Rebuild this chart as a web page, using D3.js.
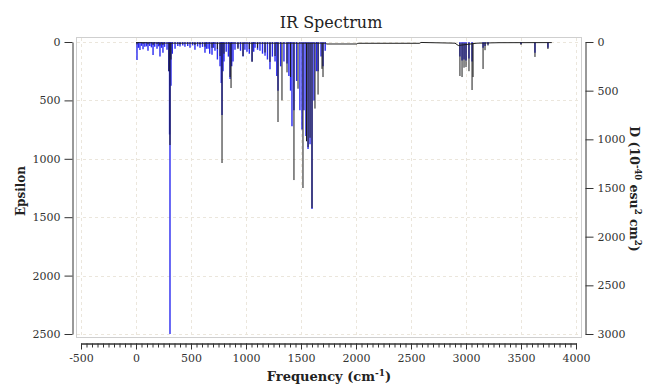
<!DOCTYPE html>
<html><head><meta charset="utf-8">
<script src="https://cdn.jsdelivr.net/npm/d3@7/dist/d3.min.js"></script>
<style>
html,body{margin:0;padding:0;background:#fff;}
svg{display:block;}
</style></head>
<body>
<svg id="chart" width="649" height="386"></svg>
<script>
// ---- data ----
const xTicks = [-500, 0, 500, 1000, 1500, 2000, 2500, 3000, 3500, 4000];
const epsTicks = [0, 500, 1000, 1500, 2000, 2500];
const dTicks = [0, 500, 1000, 1500, 2000, 2500, 3000];

// blue sticks: dipole strength D (right axis)
const stickFreq = [9,22,36,50,64,80,95,109,125,140,155,170,191,205,218,232,245,260,282,298,305,309,318,330,355,380,400,425,445,470,491,515,536,560,582,605,627,640,655,670,691,705,718,740,764,775,782,791,800,820,840,855,870,882,900,927,950,973,990,1009,1030,1055,1070,1082,1105,1127,1150,1173,1195,1218,1240,1264,
  1280,1291,1315,1345,1373,1390,1405,1418,1436,1460,1490,1509,1527,1545,1564,1582,1600,1618,1640,1655,1682,1700,1720,
  2945,2964,2982,3000,3027,3055,3155,3173,3200,3500,3627,3745];
const stickD = [185,60,82,40,75,50,45,90,40,55,134,50,70,45,150,60,110,50,80,300,950,3000,450,120,70,40,45,35,50,40,60,35,80,45,60,50,110,70,70,120,130,60,90,180,250,420,750,300,200,100,150,380,250,200,80,60,90,150,80,100,120,200,100,60,80,90,120,140,180,280,150,200,
  350,500,250,200,220,350,500,866,700,400,700,900,700,966,1100,1050,1716,600,300,300,150,250,90,
  150,190,180,190,170,200,60,40,25,20,110,60];

// black spectrum peaks: Epsilon (left axis)
const peakFreq = [9,64,109,155,191,218,245,300,309,318,400,536,582,627,691,740,764,782,800,855,864,927,973,1030,1055,1105,1173,1218,1264,1291,1327,1373,1405,1436,1473,1518,1550,1564,1582,1600,1627,1655,1691,1700,
  2945,2964,2982,3000,3027,3055,3064,3155,3173,3200,3500,3627,3745];
const peakEps = [20,15,20,25,15,30,25,250,882,150,20,25,20,40,50,60,120,1036,100,300,394,60,120,60,170,50,90,170,120,685,500,260,300,1182,400,1250,850,900,820,1421,570,450,230,300,
  291,300,220,215,250,411,300,231,70,30,25,128,60];

// spectrum baseline
const baseFreq = [0,300,800,1300,1720,1735,2010,2015,2580,2590,2900,2930,3100,3300,3780];
const baseEps  = [5,10,10,10,10,17,17,11,11,4,10,30,10,6,5];

// ---- chart ----
const svg = d3.select("#chart");
const FONT = "DejaVu Serif";
const x = d3.scaleLinear().domain([-500, 4000]).range([81, 576]);
const yL = d3.scaleLinear().domain([0, 2500]).range([42, 334]);
const yR = d3.scaleLinear().domain([0, 3000]).range([42, 334]);
const px = v => Math.round(v) + 0.5;

// frame
svg.append("rect").attr("x", 76.5).attr("y", 37.5).attr("width", 505).attr("height", 300)
  .attr("fill", "none").attr("stroke", "#cfcfcf").attr("stroke-width", 1);

// grid
const grid = svg.append("g").attr("stroke", "#ebe6dc").attr("stroke-dasharray", "3,3").attr("stroke-width", 1);
grid.selectAll("line.v").data(xTicks).join("line")
  .attr("x1", d => px(x(d))).attr("x2", d => px(x(d)))
  .attr("y1", 38).attr("y2", 337);
grid.selectAll("line.h").data(epsTicks).join("line")
  .attr("y1", d => px(yL(d))).attr("y2", d => px(yL(d)))
  .attr("x1", 77).attr("x2", 581);

// blue sticks
svg.append("g").selectAll("line").data(stickFreq).join("line")
  .attr("x1", d => x(d)).attr("x2", d => x(d))
  .attr("y1", yR(0)).attr("y2", (d, i) => yR(stickD[i]))
  .attr("stroke", "#2828f0").attr("stroke-width", 1.4);

// black spectrum
const baseLine = d3.line().x(d => x(d)).y((d, i) => yL(baseEps[i]));
svg.append("path").attr("d", baseLine(baseFreq))
  .attr("fill", "none").attr("stroke", "#222").attr("stroke-width", 1);
svg.append("g").selectAll("line").data(peakFreq).join("line")
  .attr("x1", d => x(d)).attr("x2", d => x(d))
  .attr("y1", yL(8)).attr("y2", (d, i) => yL(peakEps[i]))
  .attr("stroke", "#1a1a1a").attr("stroke-width", 1);

// axes
function styleAxis(g) {
  g.select(".domain").attr("stroke", "#333");
  g.selectAll(".tick line").attr("stroke", "#333");
  g.selectAll(".tick text").attr("fill", "#333").attr("font-family", FONT).attr("font-size", 11);
}
const gx = svg.append("g").attr("transform", "translate(0,343.5)")
  .call(d3.axisBottom(x).tickValues(d3.range(-500, 4001, 50)).tickSize(4).tickSizeOuter(0).tickFormat(""));
gx.select(".domain").attr("stroke", "#333");
gx.selectAll(".tick line").attr("stroke", "#333");
const gx2 = svg.append("g").attr("transform", "translate(0,343.5)")
  .call(d3.axisBottom(x).tickValues(xTicks).tickSize(6).tickSizeOuter(0).tickPadding(5).tickFormat(d => String(d)));
styleAxis(gx2);

const gl = svg.append("g").attr("transform", "translate(72.5,0)")
  .call(d3.axisLeft(yL).tickValues(epsTicks).tickSize(8).tickSizeOuter(0).tickPadding(4).tickFormat(d => String(d)));
styleAxis(gl);
const gr = svg.append("g").attr("transform", "translate(585.5,0)")
  .call(d3.axisRight(yR).tickValues(dTicks).tickSize(8).tickSizeOuter(0).tickPadding(4).tickFormat(d => String(d)));
styleAxis(gr);

// title
svg.append("text").attr("x", 331).attr("y", 28).attr("text-anchor", "middle")
  .attr("font-family", FONT).attr("font-size", 16).attr("fill", "#222").text("IR Spectrum");

// x label
const xl = svg.append("text").attr("x", 329).attr("y", 381).attr("text-anchor", "middle")
  .attr("font-family", FONT).attr("font-weight", "bold").attr("font-size", 13).attr("fill", "#222");
xl.append("tspan").text("Frequency (cm");
xl.append("tspan").attr("dy", -5).attr("font-size", 9).text("-1");
xl.append("tspan").attr("dy", 5).text(")");

// left label
svg.append("text").attr("transform", "translate(25,191) rotate(-90)").attr("text-anchor", "middle")
  .attr("font-family", FONT).attr("font-weight", "bold").attr("font-size", 12).attr("fill", "#222").text("Epsilon");

// right label
const rl = svg.append("text").attr("transform", "translate(630,189) rotate(90)").attr("text-anchor", "middle")
  .attr("font-family", FONT).attr("font-weight", "bold").attr("font-size", 12.5).attr("fill", "#222");
rl.append("tspan").text("D (10");
rl.append("tspan").attr("dy", -5).attr("font-size", 8.5).text("-40");
rl.append("tspan").attr("dy", 5).text(" esu");
rl.append("tspan").attr("dy", -5).attr("font-size", 8.5).text("2");
rl.append("tspan").attr("dy", 5).text(" cm");
rl.append("tspan").attr("dy", -5).attr("font-size", 8.5).text("2");
rl.append("tspan").attr("dy", 5).text(")");
</script>
</body></html>
